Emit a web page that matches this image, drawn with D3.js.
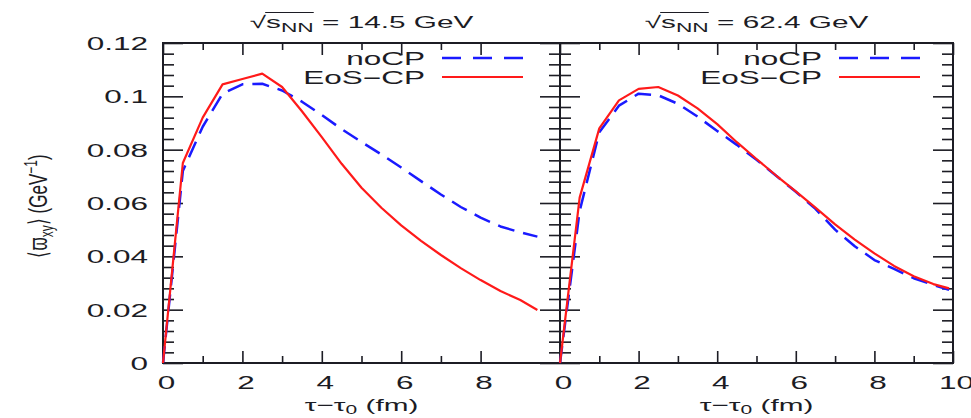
<!DOCTYPE html>
<html>
<head>
<meta charset="utf-8">
<script src="https://cdn.jsdelivr.net/npm/d3@7"></script>
<style>
  html, body { margin: 0; padding: 0; background: #fff; }
  svg { display: block; font-family: "Liberation Sans", Arial, Helvetica, sans-serif; }
</style>
</head>
<body>
<div id="chart"></div>
<script>
// values
const energies = ["14.5", "62.4"];
const seriesNames = ["noCP", "EoS\u2212CP"];

const tau14 = [0, 0.5, 1, 1.5, 2, 2.5, 3, 3.5, 4, 4.5, 5, 5.5, 6, 6.5, 7, 7.5, 8, 8.5, 9, 9.43];
const noCP14 = [0, 0.072, 0.0886, 0.101, 0.1045, 0.1047, 0.1022, 0.098, 0.093, 0.0877, 0.0829, 0.0782, 0.0733, 0.0682, 0.0632, 0.0585, 0.0545, 0.0512, 0.049, 0.0474];
const eosCP14 = [0, 0.075, 0.092, 0.1045, 0.1065, 0.1085, 0.1035, 0.0944, 0.0847, 0.0747, 0.0657, 0.0582, 0.0516, 0.0458, 0.0405, 0.0356, 0.0311, 0.027, 0.0236, 0.0199];

const tau62 = [0, 0.5, 1, 1.5, 2, 2.5, 3, 3.5, 4, 4.5, 5, 5.5, 6, 6.5, 7, 7.5, 8, 8.5, 9, 9.5, 9.9];
const noCP62 = [0, 0.057, 0.0865, 0.0965, 0.101, 0.1004, 0.0972, 0.0924, 0.087, 0.0818, 0.0762, 0.0702, 0.0642, 0.0578, 0.0500, 0.0438, 0.0386, 0.0353, 0.0318, 0.0293, 0.0274];
const eosCP62 = [0, 0.062, 0.088, 0.0985, 0.1028, 0.1035, 0.1003, 0.0955, 0.0896, 0.0828, 0.0765, 0.0703, 0.0644, 0.0583, 0.052, 0.0463, 0.0411, 0.0364, 0.0325, 0.0296, 0.028];

const xMajor14 = [0, 2, 4, 6, 8];
const xMinor14 = [1, 3, 5, 7];
const xMajor62 = [0, 2, 4, 6, 8, 10];
const xMinor62 = [1, 3, 5, 7, 9];
const yMajor = [0, 0.02, 0.04, 0.06, 0.08, 0.1, 0.12];

const width = 971, height = 418;
const plotTop = 43, plotBottom = 363;
const sx = 1.75; // the source picture is stretched horizontally
const ink = "#1c1c24";
const colors = ["#1a1aff", "#ff1a1a"];

const svg = d3.select("#chart").append("svg")
  .attr("width", width)
  .attr("height", height)
  .attr("viewBox", `0 0 ${width} ${height}`);

const y = d3.scaleLinear().domain([0, 0.12]).range([plotBottom, plotTop]);
const yMinor = d3.range(0, 0.1201, 0.004).filter(v => !yMajor.some(m => Math.abs(m - v) < 1e-6));
const fmtY = d => d === 0 ? "0" : String(+d.toFixed(3));

const panels = [
  { x0: 163, x1: 560, energy: energies[0], tau: tau14, series: [noCP14, eosCP14], xMajor: xMajor14, xMinor: xMinor14, yLabels: true },
  { x0: 560, x1: 953, energy: energies[1], tau: tau62, series: [noCP62, eosCP62], xMajor: xMajor62, xMinor: xMinor62, yLabels: false }
];

function styleAxis(g) {
  g.select(".domain").remove();
  g.selectAll(".tick line").attr("stroke", ink).attr("stroke-width", 1.6);
}

panels.forEach(p => {
  const x = d3.scaleLinear().domain([0, 10]).range([p.x0, p.x1]);
  const g = svg.append("g");

  // bottom axis
  g.append("g")
    .attr("transform", `translate(0,${plotBottom})`)
    .call(d3.axisBottom(x).tickValues(p.xMajor).tickSize(-12).tickFormat(d => d))
    .call(styleAxis)
    .selectAll("text")
    .attr("y", 13).attr("dy", "0.71em")
    .attr("transform", `translate(3,0) scale(${sx},1)`)
    .attr("fill", ink).attr("font-size", 18);
  g.append("g")
    .attr("transform", `translate(0,${plotBottom})`)
    .call(d3.axisBottom(x).tickValues(p.xMinor).tickSize(-7).tickFormat(""))
    .call(styleAxis);

  // top axis
  g.append("g")
    .attr("transform", `translate(0,${plotTop})`)
    .call(d3.axisTop(x).tickValues(p.xMajor).tickSize(-12).tickFormat(""))
    .call(styleAxis);
  g.append("g")
    .attr("transform", `translate(0,${plotTop})`)
    .call(d3.axisTop(x).tickValues(p.xMinor).tickSize(-7).tickFormat(""))
    .call(styleAxis);

  // left axis
  const left = g.append("g")
    .attr("transform", `translate(${p.x0},0)`)
    .call(d3.axisLeft(y).tickValues(yMajor).tickSize(-20).tickFormat(p.yLabels ? fmtY : ""))
    .call(styleAxis);
  left.selectAll("text")
    .attr("x", 0).attr("dy", "0.36em")
    .attr("text-anchor", "end")
    .attr("transform", `translate(-15,0) scale(${sx},1)`)
    .attr("fill", ink).attr("font-size", 18);
  g.append("g")
    .attr("transform", `translate(${p.x0},0)`)
    .call(d3.axisLeft(y).tickValues(yMinor).tickSize(-11).tickFormat(""))
    .call(styleAxis);

  // right axis
  g.append("g")
    .attr("transform", `translate(${p.x1},0)`)
    .call(d3.axisRight(y).tickValues(yMajor).tickSize(-20).tickFormat(""))
    .call(styleAxis);
  g.append("g")
    .attr("transform", `translate(${p.x1},0)`)
    .call(d3.axisRight(y).tickValues(yMinor).tickSize(-11).tickFormat(""))
    .call(styleAxis);

  // frame
  g.append("rect")
    .attr("x", p.x0).attr("y", plotTop)
    .attr("width", p.x1 - p.x0).attr("height", plotBottom - plotTop)
    .attr("fill", "none").attr("stroke", ink).attr("stroke-width", 2);

  // curves
  const line = d3.line().x(d => x(d[0])).y(d => y(d[1]));
  p.series.forEach((vals, i) => {
    g.append("path")
      .datum(p.tau.map((t, k) => [t, vals[k]]))
      .attr("d", line)
      .attr("fill", "none")
      .attr("stroke", colors[i])
      .attr("stroke-width", i === 0 ? 2.5 : 2.2)
      .attr("stroke-dasharray", i === 0 ? "17,9" : null)
      .attr("stroke-linejoin", "round");
  });

  // legend
  seriesNames.forEach((name, i) => {
    const ly = 58 + i * 19;
    g.append("text")
      .attr("transform", `translate(${p.x0 + 262},${ly + 6.5}) scale(${sx},1)`)
      .attr("text-anchor", "end")
      .attr("font-size", 18)
      .attr("fill", ink)
      .text(name);
    g.append("line")
      .attr("x1", p.x0 + 279).attr("x2", p.x0 + 360)
      .attr("y1", ly).attr("y2", ly)
      .attr("stroke", colors[i])
      .attr("stroke-width", i === 0 ? 2.5 : 2.2)
      .attr("stroke-dasharray", i === 0 ? "19,12" : null);
  });

  // title
  const cx = (p.x0 + p.x1) / 2;
  const tg = g.append("g").attr("transform", `translate(${cx},28) scale(${sx},1)`);
  const title = tg.append("text")
    .attr("text-anchor", "middle")
    .attr("font-size", 17)
    .attr("fill", ink);
  title.append("tspan").text("\u221A");
  title.append("tspan").text("s");
  title.append("tspan").attr("font-size", 13).attr("dy", 4).text("NN");
  title.append("tspan").attr("dy", -4).text(` = ${p.energy} GeV`);
  const node = title.node();
  const bx0 = node.getEndPositionOfChar(0).x - 0.5;
  const bx1 = node.getEndPositionOfChar(3).x;
  tg.append("line")
    .attr("x1", bx0).attr("x2", bx1)
    .attr("y1", -15.5).attr("y2", -15.5)
    .attr("stroke", ink).attr("stroke-width", 1.1);

  // x label
  const xl = g.append("text")
    .attr("transform", `translate(${cx},411) scale(${sx},1)`)
    .attr("text-anchor", "middle")
    .attr("font-size", 17)
    .attr("fill", ink);
  xl.append("tspan").text("\u03C4\u2212\u03C4");
  xl.append("tspan").attr("font-size", 12).attr("dy", 3).text("0");
  xl.append("tspan").attr("dy", -3).text(" (fm)");
});

// y label
const yl = svg.append("text")
  .attr("transform", "translate(47,206) rotate(-90) scale(1,1.5)")
  .attr("text-anchor", "middle")
  .attr("font-size", 17)
  .attr("fill", ink);
yl.append("tspan").text("\u27E8\u03D6");
yl.append("tspan").attr("font-size", 12).attr("dy", 4).text("xy");
yl.append("tspan").attr("dy", -4).text("\u27E9 (GeV");
yl.append("tspan").attr("font-size", 12).attr("dy", -7).text("\u22121");
yl.append("tspan").attr("dy", 7).text(")");
</script>
</body>
</html>
